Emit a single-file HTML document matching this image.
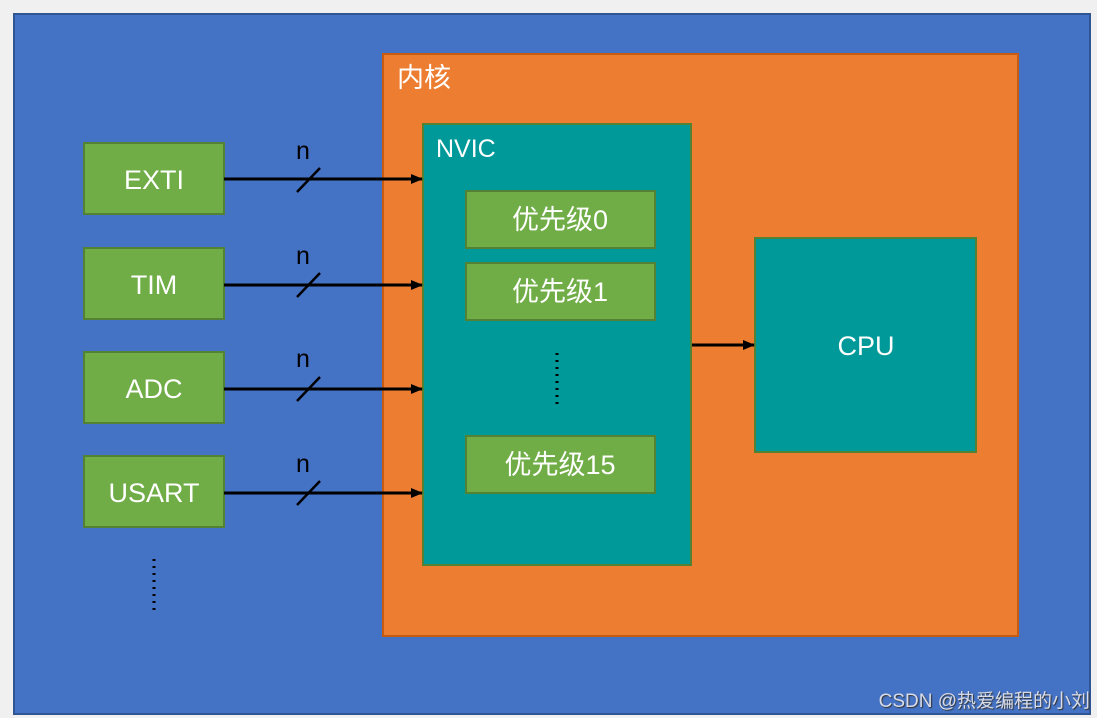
<!DOCTYPE html>
<html><head><meta charset="utf-8"><style>
html,body{margin:0;padding:0;background:#f0f0f0;}
svg{display:block;}
text{font-family:"Liberation Sans","Noto Sans CJK SC",sans-serif;}
</style></head><body>
<svg width="1097" height="718" viewBox="0 0 1097 718" xmlns="http://www.w3.org/2000/svg">
<defs><marker id="a" markerWidth="12" markerHeight="12" refX="11" refY="5" orient="auto" markerUnits="userSpaceOnUse"><path d="M0,0 L12,5 L0,10 Z" fill="#000"/></marker></defs>
<rect x="14" y="14" width="1076" height="700" fill="#4472c4" stroke="#2f5597" stroke-width="2"/>
<rect x="383" y="54" width="635" height="582" fill="#ed7d31" stroke="#c55a11" stroke-width="2"/>
<text x="397" y="87" font-size="27" fill="#fff">内核</text>
<rect x="423" y="124" width="268" height="441" fill="#009999" stroke="#548235" stroke-width="2"/>
<text x="436" y="157" font-size="25" fill="#fff">NVIC</text>
<g fill="#70ad47" stroke="#548235" stroke-width="2">
<rect x="466" y="191" width="189" height="57"/>
<rect x="466" y="263" width="189" height="57"/>
<rect x="466" y="436" width="189" height="57"/>
<rect x="84" y="143" width="140" height="71"/>
<rect x="84" y="248" width="140" height="71"/>
<rect x="84" y="352" width="140" height="71"/>
<rect x="84" y="456" width="140" height="71"/>
</g>
<rect x="755" y="238" width="221" height="214" fill="#009999" stroke="#548235" stroke-width="2"/>
<g font-size="27" fill="#fff" text-anchor="middle">
<text x="560" y="229">优先级0</text>
<text x="560" y="301">优先级1</text>
<text x="560" y="474">优先级15</text>
<text x="866" y="355">CPU</text>
<text x="154" y="189">EXTI</text>
<text x="154" y="294">TIM</text>
<text x="154" y="398">ADC</text>
<text x="154" y="502">USART</text>
</g>
<g stroke="#000" stroke-width="3" stroke-dasharray="2,5">
<line x1="557" y1="353" x2="557" y2="404"/>
<line x1="154" y1="559" x2="154" y2="610"/>
</g>
<g stroke="#000" stroke-width="3" marker-end="url(#a)">
<line x1="224" y1="179" x2="422" y2="179"/>
<line x1="224" y1="285" x2="422" y2="285"/>
<line x1="224" y1="389" x2="422" y2="389"/>
<line x1="224" y1="493" x2="422" y2="493"/>
<line x1="692" y1="345" x2="754" y2="345"/>
</g>
<g stroke="#000" stroke-width="2.5">
<line x1="297" y1="192" x2="320" y2="168"/>
<line x1="297" y1="297" x2="320" y2="273"/>
<line x1="297" y1="401" x2="320" y2="377"/>
<line x1="297" y1="505" x2="320" y2="481"/>
</g>
<g font-size="25" fill="#000" text-anchor="middle">
<text x="303" y="159">n</text>
<text x="303" y="264">n</text>
<text x="303" y="367">n</text>
<text x="303" y="472">n</text>
</g>
<text x="1090" y="707" font-size="19" fill="#d8dce8" text-anchor="end" style="text-shadow:1px 1px 1px #333">CSDN @热爱编程的小刘</text>
</svg>
</body></html>
